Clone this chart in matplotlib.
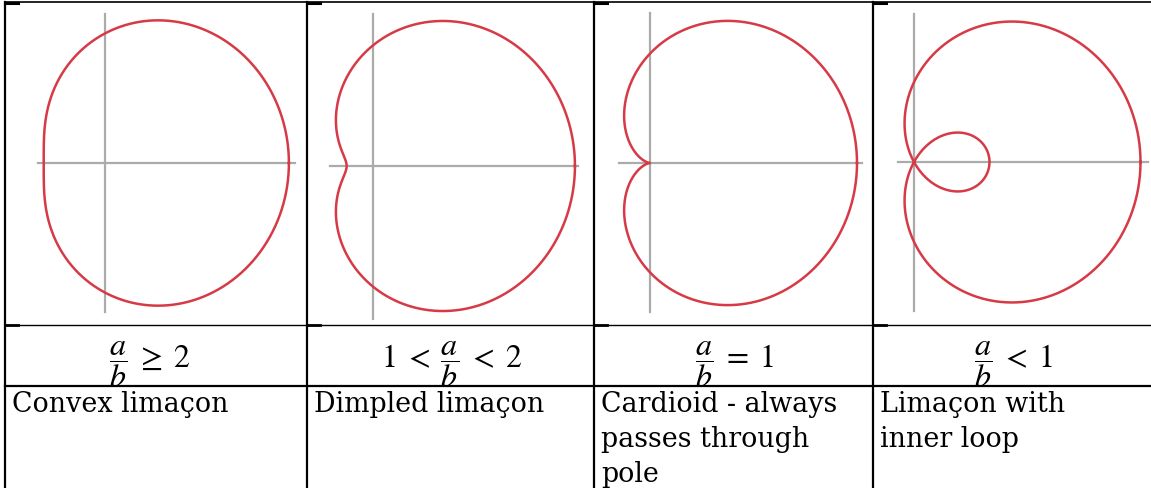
## Table of limacon shapes r = a + b cos(theta), redrawn with matplotlib

import numpy as np
import matplotlib
matplotlib.use('Agg')
import matplotlib.pyplot as plt
from matplotlib.patches import Rectangle

plt.rcParams['mathtext.fontset'] = 'stix'

# limacon parameters for each column (b = 1)
a_vals = [2.0, 1.3, 1.0, 0.5]
b_vals = [1.0, 1.0, 1.0, 1.0]

conditions = [r'$\dfrac{a}{b} \;\geq\; 2$',
              r'$1 \;<\; \dfrac{a}{b} \;<\; 2$',
              r'$\dfrac{a}{b} \;=\; 1$',
              r'$\dfrac{a}{b} \;<\; 1$']

descriptions = ['Convex limaçon',
                'Dimpled limaçon',
                'Cardioid - always\npasses through\npole',
                'Limaçon with\ninner loop']

# figure size in pixels
W, H = 1151, 489
fig = plt.figure(figsize=(W/100, H/100), dpi=100, facecolor='white')

# column edges and row edges (pixels)
col_edges = [5, 307, 594, 873, 1151]
row_top, row_img, row_cond = 3, 326, 387
cond_x = [150, 452, 734, 1013]

# pole position (px) and pixel per unit for each sketch
origins = [(105, 164), (373, 167), (650, 164), (914, 163)]
scale_x = [61.3, 87.8, 103.5, 151.0]
aspect = 1.057
# extent of the grey axes in pixels (x0, x1, y0, y1)
axis_px = [(38, 295, 15, 313), (330, 578, 15, 320),
           (619, 862, 14, 313), (898, 1148, 15, 312)]

theta = np.linspace(0, 2*np.pi, 1000)

for i in range(4):
    x0, x1 = col_edges[i], col_edges[i+1]
    ax = fig.add_axes([x0/W, 1-row_img/H, (x1-x0)/W, (row_img-row_top)/H])
    ox, oy = origins[i]
    sx = scale_x[i]
    sy = sx*aspect
    ax.set_xlim((x0-ox)/sx, (x1-ox)/sx)
    ax.set_ylim((oy-row_img)/sy, (oy-row_top)/sy)
    ax.axis('off')

    ax0, ax1, ay0, ay1 = axis_px[i]
    ax.plot([(ax0-ox)/sx, (ax1-ox)/sx], [0, 0], color='#ababab', lw=1.6, zorder=1)
    ax.plot([0, 0], [(oy-ay1)/sy, (oy-ay0)/sy], color='#ababab', lw=1.6, zorder=1)

    r = a_vals[i] + b_vals[i]*np.cos(theta)
    ax.plot(r*np.cos(theta), r*np.sin(theta), color='#d63a46', lw=1.8, zorder=2)

# table grid and text
tab = fig.add_axes([0, 0, 1, 1])
tab.set_xlim(0, W)
tab.set_ylim(H, 0)
tab.axis('off')

for i in range(4):
    tab.text(cond_x[i], 364, conditions[i], fontsize=23, ha='center', va='center', zorder=1)
    tab.text(col_edges[i]+7, 391, descriptions[i], fontsize=19.4, family='DejaVu Serif',
             ha='left', va='top', linespacing=1.38, zorder=4)

# the fraction's b is cut off by the next row, as in the original table
tab.add_patch(Rectangle((col_edges[0], row_cond), W, H-row_cond, color='white', zorder=2))

tab.plot([col_edges[0], W], [row_top, row_top], color='black', lw=1.2, zorder=5)
tab.plot([col_edges[0], W], [row_img, row_img], color='black', lw=1.0, zorder=5)
tab.plot([col_edges[0], W], [row_cond, row_cond], color='black', lw=1.6, zorder=5)
for x in col_edges[:-1]:
    tab.plot([x, x], [row_top, H], color='black', lw=1.6, zorder=5)
    # little thicker stubs left by the picture frames
    tab.plot([x, x+13], [row_top+1, row_top+1], color='black', lw=2.2, zorder=5)
    tab.plot([x, x+13], [row_img, row_img], color='black', lw=2.0, zorder=5)

plt.savefig('out.png', dpi=100, facecolor='white')
